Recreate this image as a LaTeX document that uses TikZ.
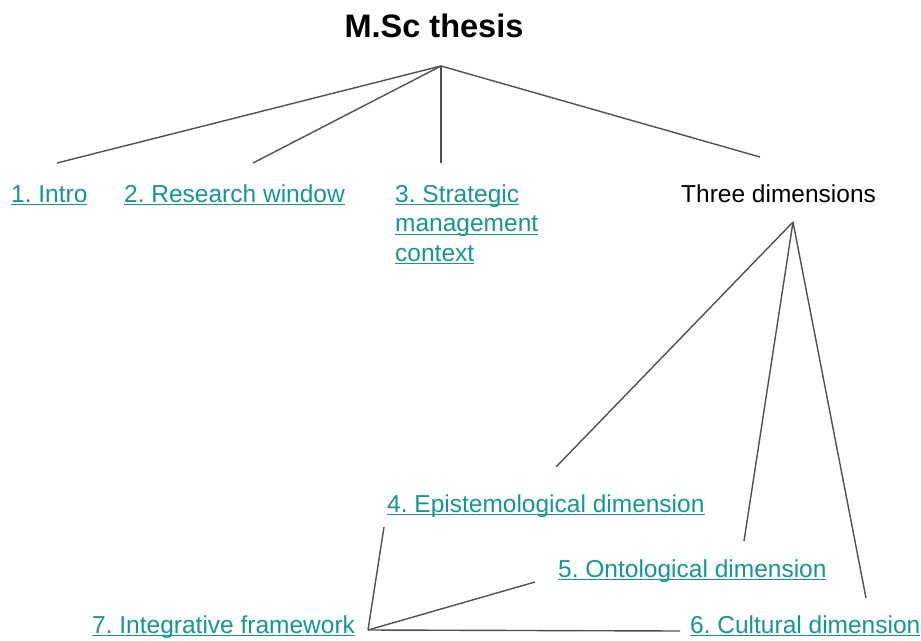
\documentclass[tikz,border=0pt]{standalone}
\usepackage{fontspec}
\setmainfont{Liberation Sans}
\frenchspacing
\definecolor{linkteal}{RGB}{20,150,150}
\definecolor{wire}{RGB}{80,80,80}
% underlined hyperlink-style text with a fixed underline offset
\newcommand\lnk[1]{\setbox0\hbox{#1}\rlap{\rule[-3.4pt]{\wd0}{1.3pt}}\box0}
\tikzset{
  label/.style={anchor=base west, inner sep=0pt, font=\fontsize{24.5pt}{29.5pt}\selectfont},
  linktext/.style={label, text=linkteal},
  plaintext/.style={label, text=black},
  wireline/.style={draw=wire, line width=1.4pt},
}
\begin{document}
\begin{tikzpicture}[x=1pt, y=-1pt]
\useasboundingbox (0,0) rectangle (921,640);

% title
\node[anchor=base, inner sep=0pt, font=\fontsize{32.5pt}{38pt}\selectfont\bfseries] (thesis) at (434,37) {M.Sc thesis};

% chapter labels
\node[linktext] (intro) at (11,202) {\lnk{1. Intro}};
\node[linktext] (research) at (124,202) {\lnk{2. Research window}};
\node[linktext] (strategic) at (395,202) {\vtop{\baselineskip=29.5pt\hbox{\lnk{3. Strategic}}\hbox{\lnk{management}}\hbox{\lnk{context}}}};
\node[plaintext] (three) at (681,202) {Three dimensions};
\node[linktext] (epis) at (387,512) {\lnk{4. Epistemological dimension}};
\node[linktext] (onto) at (558,577) {\lnk{5. Ontological dimension}};
\node[linktext] (cult) at (690,633) {\lnk{6. Cultural dimension}};
\node[linktext] (integ) at (92,633) {\lnk{7. Integrative framework}};

% connector end points
\coordinate (hub) at (441,66);
\coordinate (introtip) at (57,163);
\coordinate (researchtip) at (253,163);
\coordinate (strategictip) at (441,163);
\coordinate (threetip) at (760,157);
\coordinate (threehub) at (793,222);
\coordinate (epistip) at (556,467);
\coordinate (ontotip) at (744,541);
\coordinate (culttip) at (866,598);
\coordinate (integhub) at (368,630);
\coordinate (episfoot) at (384,527);
\coordinate (ontofoot) at (535,582);
\coordinate (cultfoot) at (680,631);

% thesis tree
\draw[wireline] (hub) -- (introtip);
\draw[wireline] (hub) -- (researchtip);
\draw[wireline] (hub) -- (strategictip);
\draw[wireline] (hub) -- (threetip);

% three dimensions
\draw[wireline] (threehub) -- (epistip);
\draw[wireline] (threehub) -- (ontotip);
\draw[wireline] (threehub) -- (culttip);

% integrative framework
\draw[wireline] (integhub) -- (episfoot);
\draw[wireline] (integhub) -- (ontofoot);
\draw[wireline] (integhub) -- (cultfoot);
\end{tikzpicture}
\end{document}
